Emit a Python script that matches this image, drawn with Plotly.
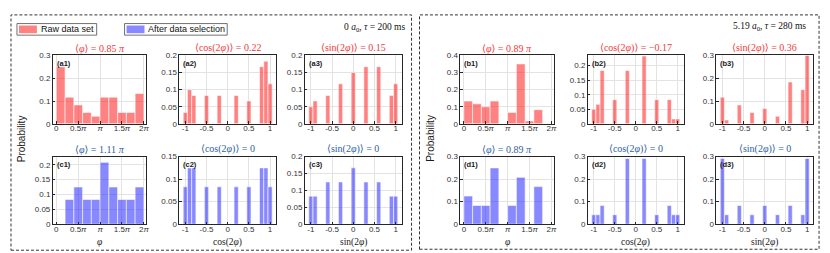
import plotly.graph_objects as go

W, H = 830, 253

# ---------------- data ----------------
phi_centers = [0.1, 0.3, 0.5, 0.7, 0.9, 1.1, 1.3, 1.5, 1.7, 1.9]   # units of pi
phi_ticks = [0, 0.5, 1, 1.5, 2]
phi_ticklabels = ["0", "0.5<i>π</i>", "<i>π</i>", "1.5<i>π</i>", "2<i>π</i>"]
cos_centers = [-1.0, -0.9, -0.8, -0.5, -0.2, 0.2, 0.5, 0.8, 0.9, 1.0]
sin_centers = [-1.0, -0.9, -0.6, -0.3, 0.0, 0.3, 0.6, 0.9, 1.0]
trig_ticks = [-1, -0.5, 0, 0.5, 1]
trig_ticklabels = ["-1", "-0.5", "0", "0.5", "1"]

a1_prob = [0.250, 0.117, 0.083, 0.050, 0.033, 0.117, 0.117, 0.050, 0.050, 0.133]
a2_prob = [0.033, 0.100, 0.083, 0.083, 0.083, 0.083, 0.067, 0.167, 0.183, 0.117]
a3_prob = [0.050, 0.067, 0.083, 0.117, 0.150, 0.167, 0.167, 0.083, 0.117]
c1_prob = [0.0, 0.083, 0.125, 0.083, 0.083, 0.208, 0.125, 0.083, 0.083, 0.125]
c2_prob = [0.083, 0.125, 0.125, 0.083, 0.083, 0.083, 0.083, 0.125, 0.125, 0.083]
c3_prob = [0.083, 0.083, 0.125, 0.125, 0.167, 0.125, 0.125, 0.083, 0.083]
b1_prob = [0.133, 0.117, 0.100, 0.133, 0.0, 0.067, 0.350, 0.017, 0.083, 0.0]
b2_prob = [0.050, 0.067, 0.183, 0.083, 0.183, 0.233, 0.083, 0.083, 0.017, 0.017]
b3_prob = [0.117, 0.017, 0.083, 0.050, 0.067, 0.033, 0.183, 0.150, 0.300]
d1_prob = [0.125, 0.083, 0.083, 0.250, 0.0, 0.083, 0.208, 0.0, 0.167, 0.0]
d2_prob = [0.042, 0.042, 0.083, 0.042, 0.292, 0.292, 0.042, 0.083, 0.042, 0.042]
d3_prob = [0.292, 0.042, 0.083, 0.042, 0.083, 0.042, 0.083, 0.042, 0.292]

titles = {
    "a1": "⟨<i>φ</i>⟩ = 0.85 <i>π</i>", "a2": "⟨cos(2<i>φ</i>)⟩ = 0.22", "a3": "⟨sin(2<i>φ</i>)⟩ = 0.15",
    "c1": "⟨<i>φ</i>⟩ = 1.11 <i>π</i>", "c2": "⟨cos(2<i>φ</i>)⟩ = 0", "c3": "⟨sin(2<i>φ</i>)⟩ = 0",
    "b1": "⟨<i>φ</i>⟩ = 0.89 <i>π</i>", "b2": "⟨cos(2<i>φ</i>)⟩ = −0.17", "b3": "⟨sin(2<i>φ</i>)⟩ = 0.36",
    "d1": "⟨<i>φ</i>⟩ = 0.89 <i>π</i>", "d2": "⟨cos(2<i>φ</i>)⟩ = 0", "d3": "⟨sin(2<i>φ</i>)⟩ = 0",
}
xlabels = ["<i>φ</i>", "cos(2<i>φ</i>)", "sin(2<i>φ</i>)"]
legend_labels = ["Raw data set", "After data selection"]
headers = ["0 <i>a</i><sub>0</sub>, <i>τ</i> = 200 ms", "5.19 <i>a</i><sub>0</sub>, <i>τ</i> = 280 ms"]

# ---------------- panel geometry (pixels) ----------------
RED = "rgba(255,40,40,0.58)"
BLUE = "rgba(40,40,255,0.55)"
RED_T = "#F23A3A"
BLUE_T = "#2F5F9F"
SERIF = "Liberation Serif, DejaVu Serif, serif"
SANS = "Liberation Sans, Arial, sans-serif"

cols_left = [(45, 139), (172, 269), (298, 395)]
cols_right = [(454, 548), (582, 678), (711, 808)]
row_top = (45, 116)
row_bot = (150, 220)

panels = [
    ("a1", cols_left, 0, row_top, "phi", phi_centers, a1_prob, RED, 0.3, [0, 0.1, 0.2, 0.3]),
    ("a2", cols_left, 1, row_top, "cos", cos_centers, a2_prob, RED, 0.2, [0, 0.05, 0.1, 0.15, 0.2]),
    ("a3", cols_left, 2, row_top, "sin", sin_centers, a3_prob, RED, 0.2, [0, 0.05, 0.1, 0.15, 0.2]),
    ("c1", cols_left, 0, row_bot, "phi", phi_centers, c1_prob, BLUE, 0.227, [0, 0.05, 0.1, 0.15, 0.2]),
    ("c2", cols_left, 1, row_bot, "cos", cos_centers, c2_prob, BLUE, 0.15, [0, 0.05, 0.1, 0.15]),
    ("c3", cols_left, 2, row_bot, "sin", sin_centers, c3_prob, BLUE, 0.2, [0, 0.05, 0.1, 0.15, 0.2]),
    ("b1", cols_right, 0, row_top, "phi", phi_centers, b1_prob, RED, 0.4, [0, 0.1, 0.2, 0.3, 0.4]),
    ("b2", cols_right, 1, row_top, "cos", cos_centers, b2_prob, RED, 0.235, [0, 0.05, 0.1, 0.15, 0.2]),
    ("b3", cols_right, 2, row_top, "sin", sin_centers, b3_prob, RED, 0.3, [0, 0.1, 0.2, 0.3]),
    ("d1", cols_right, 0, row_bot, "phi", phi_centers, d1_prob, BLUE, 0.3, [0, 0.1, 0.2, 0.3]),
    ("d2", cols_right, 1, row_bot, "cos", cos_centers, d2_prob, BLUE, 0.3, [0, 0.1, 0.2, 0.3]),
    ("d3", cols_right, 2, row_bot, "sin", sin_centers, d3_prob, BLUE, 0.3, [0, 0.1, 0.2, 0.3]),
]

fig = go.Figure()
layout = {}
annotations = []
shapes = []

def fmt(v):
    return "0" if v == 0 else ("%g" % v)

for i, (key, cols, ci, row, kind, centers, probs, color, ymax, yticks) in enumerate(panels):
    n = "" if i == 0 else str(i + 1)
    l, r = cols[ci]
    t, b = row
    xs = [c for c, p in zip(centers, probs) if p > 0]
    ys = [p for p in probs if p > 0]
    width = 0.2 if kind == "phi" else 0.1
    fig.add_trace(go.Bar(
        x=xs, y=ys, width=width, xaxis="x" + n, yaxis="y" + n,
        marker=dict(color=color, line=dict(color="rgba(255,255,255,0.7)", width=0.8)),
        showlegend=False, hoverinfo="x+y",
    ))
    if kind == "phi":
        xr = [-0.08, 2.06]
        tv, tt = phi_ticks, phi_ticklabels
    else:
        xr = [-1.14, 1.14]
        tv, tt = trig_ticks, trig_ticklabels
    common = dict(
        showline=True, linecolor="#262626", linewidth=0.8, mirror=True,
        ticks="inside", ticklen=2.5, tickcolor="#262626", tickwidth=0.6,
        showgrid=True, gridcolor="#E3E3E3", gridwidth=0.6, zeroline=False,
        tickfont=dict(family=SANS, size=8, color="#333333"), fixedrange=True,
    )
    layout["xaxis" + n] = dict(
        domain=[l / W, r / W], anchor="y" + n, range=xr, ticklabelstandoff=-3,
        tickmode="array", tickvals=tv, ticktext=tt, **common,
    )
    layout["yaxis" + n] = dict(
        domain=[1 - b / H, 1 - t / H], anchor="x" + n, range=[0, ymax],
        tickmode="array", tickvals=yticks, ticktext=[fmt(v) for v in yticks], **common,
    )
    cx = (l + r) / 2 / W
    annotations.append(dict(
        text=titles[key], x=cx, y=1 - (t - 7.5) / H, xref="paper", yref="paper",
        xanchor="center", yanchor="middle", showarrow=False,
        font=dict(family=SERIF, size=10, color=RED_T if color == RED else BLUE_T),
    ))
    annotations.append(dict(
        text="<b>(" + key + ")</b>", x=(l + 2) / W, y=1 - (t + 1.5) / H, xref="paper", yref="paper",
        xanchor="left", yanchor="top", showarrow=False,
        font=dict(family=SANS, size=7.5, color="#1A1A1A"),
    ))
    if row == row_bot:
        annotations.append(dict(
            text=xlabels[ci], x=cx, y=1 - 238.5 / H, xref="paper", yref="paper",
            xanchor="center", yanchor="middle", showarrow=False,
            font=dict(family=SERIF, size=9.5, color="#1A1A1A"),
        ))

for x_px in (13, 424):
    annotations.append(dict(
        text="Probability", x=x_px / W, y=1 - 131 / H, xref="paper", yref="paper",
        xanchor="center", yanchor="middle", showarrow=False, textangle=-90,
        font=dict(family=SANS, size=10, color="#1A1A1A"),
    ))

for txt, x_px, y_px in ((headers[0], 400, 16), (headers[1], 803, 15)):
    annotations.append(dict(
        text=txt, x=x_px / W, y=1 - y_px / H, xref="paper", yref="paper",
        xanchor="right", yanchor="middle", showarrow=False,
        font=dict(family=SERIF, size=9.5, color="#111111"),
    ))

for (x0, y0, x1, y1) in ((3, 3, 405, 247), (413, 3, 814, 246)):
    shapes.append(dict(type="rect", xref="paper", yref="paper",
                       x0=x0 / W, x1=x1 / W, y0=1 - y1 / H, y1=1 - y0 / H,
                       line=dict(color="#333333", width=1, dash="3px,2px")))

leg = [((9, 12, 89, 24), (11, 14, 29, 22), RED, legend_labels[0], 31),
       ((117, 12, 220, 24), (119, 14, 137, 22), BLUE, legend_labels[1], 138)]
for (bx0, by0, bx1, by1), (px0, py0, px1, py1), colr, lab, tx in leg:
    shapes.append(dict(type="rect", xref="paper", yref="paper",
                       x0=bx0 / W, x1=bx1 / W, y0=1 - by1 / H, y1=1 - by0 / H,
                       line=dict(color="#4D4D4D", width=0.8), fillcolor="white"))
    shapes.append(dict(type="rect", xref="paper", yref="paper",
                       x0=px0 / W, x1=px1 / W, y0=1 - py1 / H, y1=1 - py0 / H,
                       line=dict(width=0), fillcolor=colr))
    annotations.append(dict(
        text=lab, x=tx / W, y=1 - 18 / H, xref="paper", yref="paper",
        xanchor="left", yanchor="middle", showarrow=False,
        font=dict(family=SANS, size=9, color="#111111"),
    ))

fig.update_layout(
    width=W, height=H, margin=dict(l=0, r=0, t=0, b=0),
    paper_bgcolor="white", plot_bgcolor="white",
    annotations=annotations, shapes=shapes, showlegend=False,
    **layout,
)
fig.write_html("out.html", config={"displayModeBar": False})
